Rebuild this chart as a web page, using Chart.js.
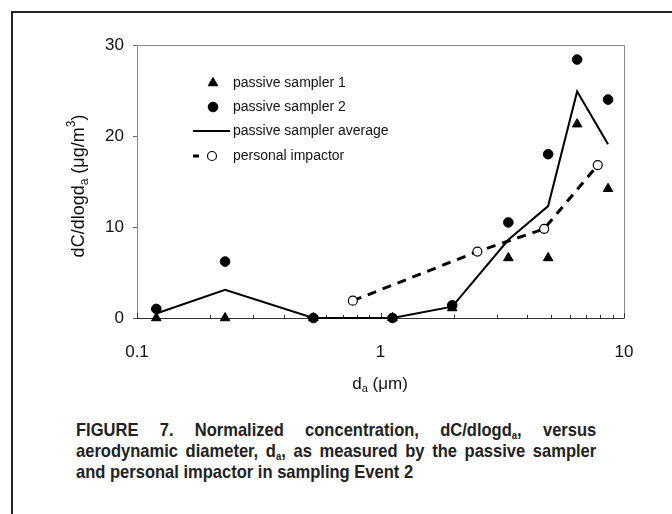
<!DOCTYPE html>
<html>
<head>
<meta charset="utf-8">
<script src="https://cdn.jsdelivr.net/npm/chart.js@4.4.1/dist/chart.umd.min.js"></script>
<style>
  html, body { margin: 0; padding: 0; background: #fff; }
  body { width: 672px; height: 514px; position: relative; overflow: hidden; }
  #frame { position: absolute; left: 11px; top: 11px; width: 700px; height: 600px;
           border-left: 2px solid #222; border-top: 2px solid #222; }
  #chart { position: absolute; left: 0; top: 0; }
  /* condensed bold caption: no narrow face installed, so squeeze it */
  #caption { position: absolute; left: 76px; top: 419px; width: 598px; color: #222;
             font: bold 19px "Liberation Sans", Arial, sans-serif; line-height: 21px;
             transform: scaleX(0.87); transform-origin: 0 0; }
  #caption .j { text-align: justify; text-align-last: justify; }
  #caption sub { font-size: 11px; vertical-align: -3px; line-height: 0; }
</style>
</head>
<body>
<div id="frame"></div>
<canvas id="chart" width="672" height="400"></canvas>
<div id="caption">
  <div class="j">FIGURE 7. Normalized concentration, dC/dlogd<sub>a</sub>, versus</div>
  <div class="j">aerodynamic diameter, d<sub>a</sub>, as measured by the passive sampler</div>
  <div>and personal impactor in sampling Event 2</div>
</div>
<script>
// values
const diam = [0.12, 0.23, 0.53, 1.12, 1.97, 3.35, 4.88, 6.42, 8.6];
const sampler1 = [0, 0, 0, 0, 1.1, 6.6, 6.6, 21.3, 14.2];
const sampler2 = [1.0, 6.2, 0, 0, 1.4, 10.5, 18.0, 28.4, 24.0];
const samplerAvg = [0.5, 3.1, 0, 0, 1.25, 8.6, 12.3, 24.9, 19.1];
const impDiam = [0.77, 2.5, 4.7, 7.8];
const impactor = [1.9, 7.3, 9.8, 16.8];
const xTicks = [0.1, 1, 10];
const yTicks = [0, 10, 20, 30];
const seriesNames = ['passive sampler 1', 'passive sampler 2', 'passive sampler average', 'personal impactor'];

const pts = (xs, ys) => xs.map((v, i) => ({ x: v, y: ys[i] }));
const FONT = '"Liberation Sans", Arial, sans-serif';

// draw text with sub/superscript pieces, centred on x
function drawRich(ctx, parts, x, y, size) {
  const widths = parts.map(p => {
    ctx.font = (p.sub || p.sup ? Math.round(size * 0.65) : size) + 'px ' + FONT;
    return ctx.measureText(p.t).width;
  });
  let cx = x - widths.reduce((a, b) => a + b, 0) / 2;
  parts.forEach((p, i) => {
    ctx.font = (p.sub || p.sup ? Math.round(size * 0.65) : size) + 'px ' + FONT;
    let dy = p.sub ? size * 0.3 : p.sup ? -size * 0.4 : 0;
    ctx.fillText(p.t, cx, y + dy);
    cx += widths[i];
  });
}

const decor = {
  id: 'decor',
  beforeDatasetsDraw(chart) {
    const { ctx, chartArea: a, scales: { x, y } } = chart;
    ctx.save();
    ctx.strokeStyle = '#8a8a8a';
    ctx.lineWidth = 1;
    ctx.strokeRect(a.left + 0.5, a.top + 0.5, a.right - a.left, a.bottom - a.top);
    ctx.strokeStyle = '#333';
    ctx.beginPath();
    ctx.moveTo(a.left, a.bottom + 0.5);
    ctx.lineTo(a.right, a.bottom + 0.5);
    ctx.stroke();
    // log minor ticks, pointing up
    for (const e of [-1, 0]) {
      for (let m = 1; m <= 10; m++) {
        const px = Math.round(x.getPixelForValue(m * Math.pow(10, e))) + 0.5;
        const len = (m === 1 || m === 10) ? 5 : 3;
        ctx.beginPath();
        ctx.moveTo(px, a.bottom);
        ctx.lineTo(px, a.bottom - len);
        ctx.stroke();
      }
    }
    ctx.strokeStyle = '#666';
    yTicks.forEach(v => {
      const py = Math.round(y.getPixelForValue(v)) + 0.5;
      ctx.beginPath();
      ctx.moveTo(a.left - 4, py);
      ctx.lineTo(a.left, py);
      ctx.stroke();
    });
    ctx.restore();
  },
  afterDraw(chart) {
    const { ctx } = chart;
    const ds = chart.data.datasets;
    ctx.save();
    ctx.fillStyle = '#111';
    ctx.textBaseline = 'middle';
    ctx.textAlign = 'left';
    // axis titles
    drawRich(ctx, [{ t: 'd' }, { t: 'a', sub: true }, { t: ' (\u03bcm)' }], 380, 384, 17);
    ctx.save();
    ctx.translate(79, 186);
    ctx.rotate(-Math.PI / 2);
    drawRich(ctx, [{ t: 'dC/dlogd' }, { t: 'a', sub: true }, { t: ' (\u03bcg/m' }, { t: '3', sup: true }, { t: ')' }], 0, 0, 18);
    ctx.restore();

    // legend inside the plot
    const rows = [83, 107, 131, 156];
    const mx = 213, tx = 233;
    ctx.font = '14px ' + FONT;
    rows.forEach((ry, i) => ctx.fillText(seriesNames[i], tx, ry));
    ctx.fillStyle = '#000';
    ctx.strokeStyle = '#000';
    Chart.helpers.drawPoint(ctx, { pointStyle: ds[2].pointStyle, radius: ds[2].pointRadius, rotation: 0, borderWidth: 1 }, mx, rows[0]);
    Chart.helpers.drawPoint(ctx, { pointStyle: ds[3].pointStyle, radius: ds[3].pointRadius, rotation: 0, borderWidth: 1 }, mx, rows[1]);
    ctx.lineWidth = ds[0].borderWidth;
    ctx.beginPath();
    ctx.moveTo(193, rows[2]);
    ctx.lineTo(230, rows[2]);
    ctx.stroke();
    ctx.lineWidth = ds[1].borderWidth;
    ctx.beginPath();
    ctx.moveTo(193, rows[3]);
    ctx.lineTo(199, rows[3]);
    ctx.stroke();
    ctx.fillStyle = '#fff';
    ctx.lineWidth = ds[1].pointBorderWidth;
    ctx.beginPath();
    ctx.arc(212, rows[3], ds[1].pointRadius, 0, Math.PI * 2);
    ctx.fill();
    ctx.stroke();
    ctx.restore();
  }
};

new Chart(document.getElementById('chart'), {
  type: 'scatter',
  data: {
    datasets: [
      {
        label: seriesNames[2], data: pts(diam, samplerAvg), showLine: true,
        borderColor: '#000', borderWidth: 2, pointRadius: 0, order: 4
      },
      {
        label: seriesNames[3], data: pts(impDiam, impactor), showLine: true,
        borderColor: '#000', borderWidth: 3, borderDash: [9, 7],
        pointRadius: 4.5, pointBackgroundColor: '#fff', pointBorderColor: '#000', pointBorderWidth: 1.2,
        order: 3
      },
      {
        label: seriesNames[0], data: pts(diam, sampler1), pointStyle: 'triangle',
        pointRadius: 5.5, backgroundColor: '#000', borderColor: '#000', pointBorderWidth: 1, order: 2
      },
      {
        label: seriesNames[1], data: pts(diam, sampler2), pointStyle: 'circle',
        pointRadius: 4.8, backgroundColor: '#000', borderColor: '#000', pointBorderWidth: 1, order: 1
      }
    ]
  },
  options: {
    responsive: false,
    animation: false,
    devicePixelRatio: 1,
    clip: false,
    layout: { padding: { left: 0, right: 48, top: 45, bottom: 0 } },
    plugins: { legend: { display: false }, tooltip: { enabled: false } },
    scales: {
      x: {
        type: 'logarithmic', min: 0.1, max: 10,
        grid: { display: false }, border: { display: false },
        afterBuildTicks: s => { s.ticks = xTicks.map(v => ({ value: v })); },
        afterFit: s => { s.height = 82; },
        ticks: { autoSkip: false, maxRotation: 0, padding: 16, color: '#111',
                 font: { family: FONT, size: 17 }, callback: v => String(v) }
      },
      y: {
        min: 0, max: 30,
        grid: { display: false }, border: { display: false },
        afterBuildTicks: s => { s.ticks = yTicks.map(v => ({ value: v })); },
        afterFit: s => { s.width = 137; },
        ticks: { padding: 5, color: '#111', font: { family: FONT, size: 17 } }
      }
    }
  },
  plugins: [decor]
});
</script>
</body>
</html>
